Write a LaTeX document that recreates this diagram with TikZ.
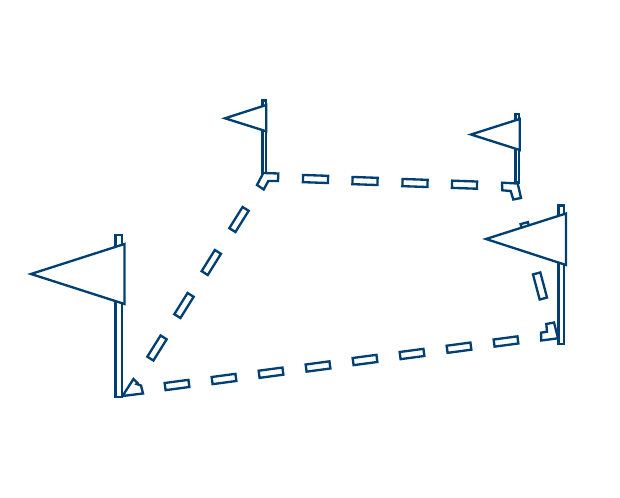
\documentclass[tikz,border=0pt]{standalone}
\usepackage{xcolor}
\definecolor{flagblue}{HTML}{003F72}

\begin{document}
\begin{tikzpicture}[x=.75pt,y=-.75pt,line join=miter,
	route/.style={draw=flagblue,line width=1.75pt},
	flag/.style={draw=flagblue,fill=white,line width=1.75pt}]
\useasboundingbox (0,0) rectangle (620,498);

\foreach \x/\y in {177/385,224/379,271/372.7,318/366.5,365/360,412/354,459/347.7,506/341.5}{
	\draw[route,shift={(\x,\y)},rotate=7.6] (-12,-3.6) rectangle (12,3.6);
}
\foreach \x/\y in {157/348,184/305.5,211.3/262.5,239/219.5}{
	\draw[route,shift={(\x,\y)},rotate=58] (-12.5,-3.6) rectangle (12.5,3.6);
}
\foreach \x/\y in {315.5/179,365/181,415/183,464.5/184.7}{
	\draw[route,shift={(\x,\y)},rotate=-2] (-12.5,-3.6) rectangle (12.5,3.6);
}
\foreach \x/\y in {540/286,527.6/235.7}{
	\draw[route,shift={(\x,\y)},rotate=-75] (-13,-3.8) rectangle (13,3.8);
}

\draw[route] (122.5,396) -- (133.5,379) -- (137.5,383) -- (136.5,384) -- (141,385.5) -- (143,393.5) -- cycle;
\draw[route] (263.3,173) -- (278.3,173.5) -- (278,181) -- (268.3,181) -- (263.7,189.5) -- (257,185) -- cycle;
\draw[route] (502,182.7) -- (517.7,183.5) -- (521,198) -- (513.3,199.5) -- (510.7,191) -- (502.3,190.3) -- cycle;
\draw[route] (541,332.7) -- (547,331.7) -- (546.3,324) -- (554,322.5) -- (558,338.3) -- (541.3,340.5) -- cycle;

\draw[route] (115.5,235) rectangle (122,397);
\draw[flag] (31,274) -- (124.5,244) -- (124.5,304) -- cycle;
\draw[route] (262.5,100.5) rectangle (265.8,173);
\draw[flag] (225,118.3) -- (266.3,105) -- (266.3,131.3) -- cycle;
\draw[route] (515.5,113.7) rectangle (519,182.5);
\draw[flag] (471,134.5) -- (519.7,119) -- (519.7,150) -- cycle;
\draw[route] (558.5,205.5) rectangle (564,344);
\draw[flag] (486,239) -- (566,213.5) -- (566,265) -- cycle;
\end{tikzpicture}
\end{document}
